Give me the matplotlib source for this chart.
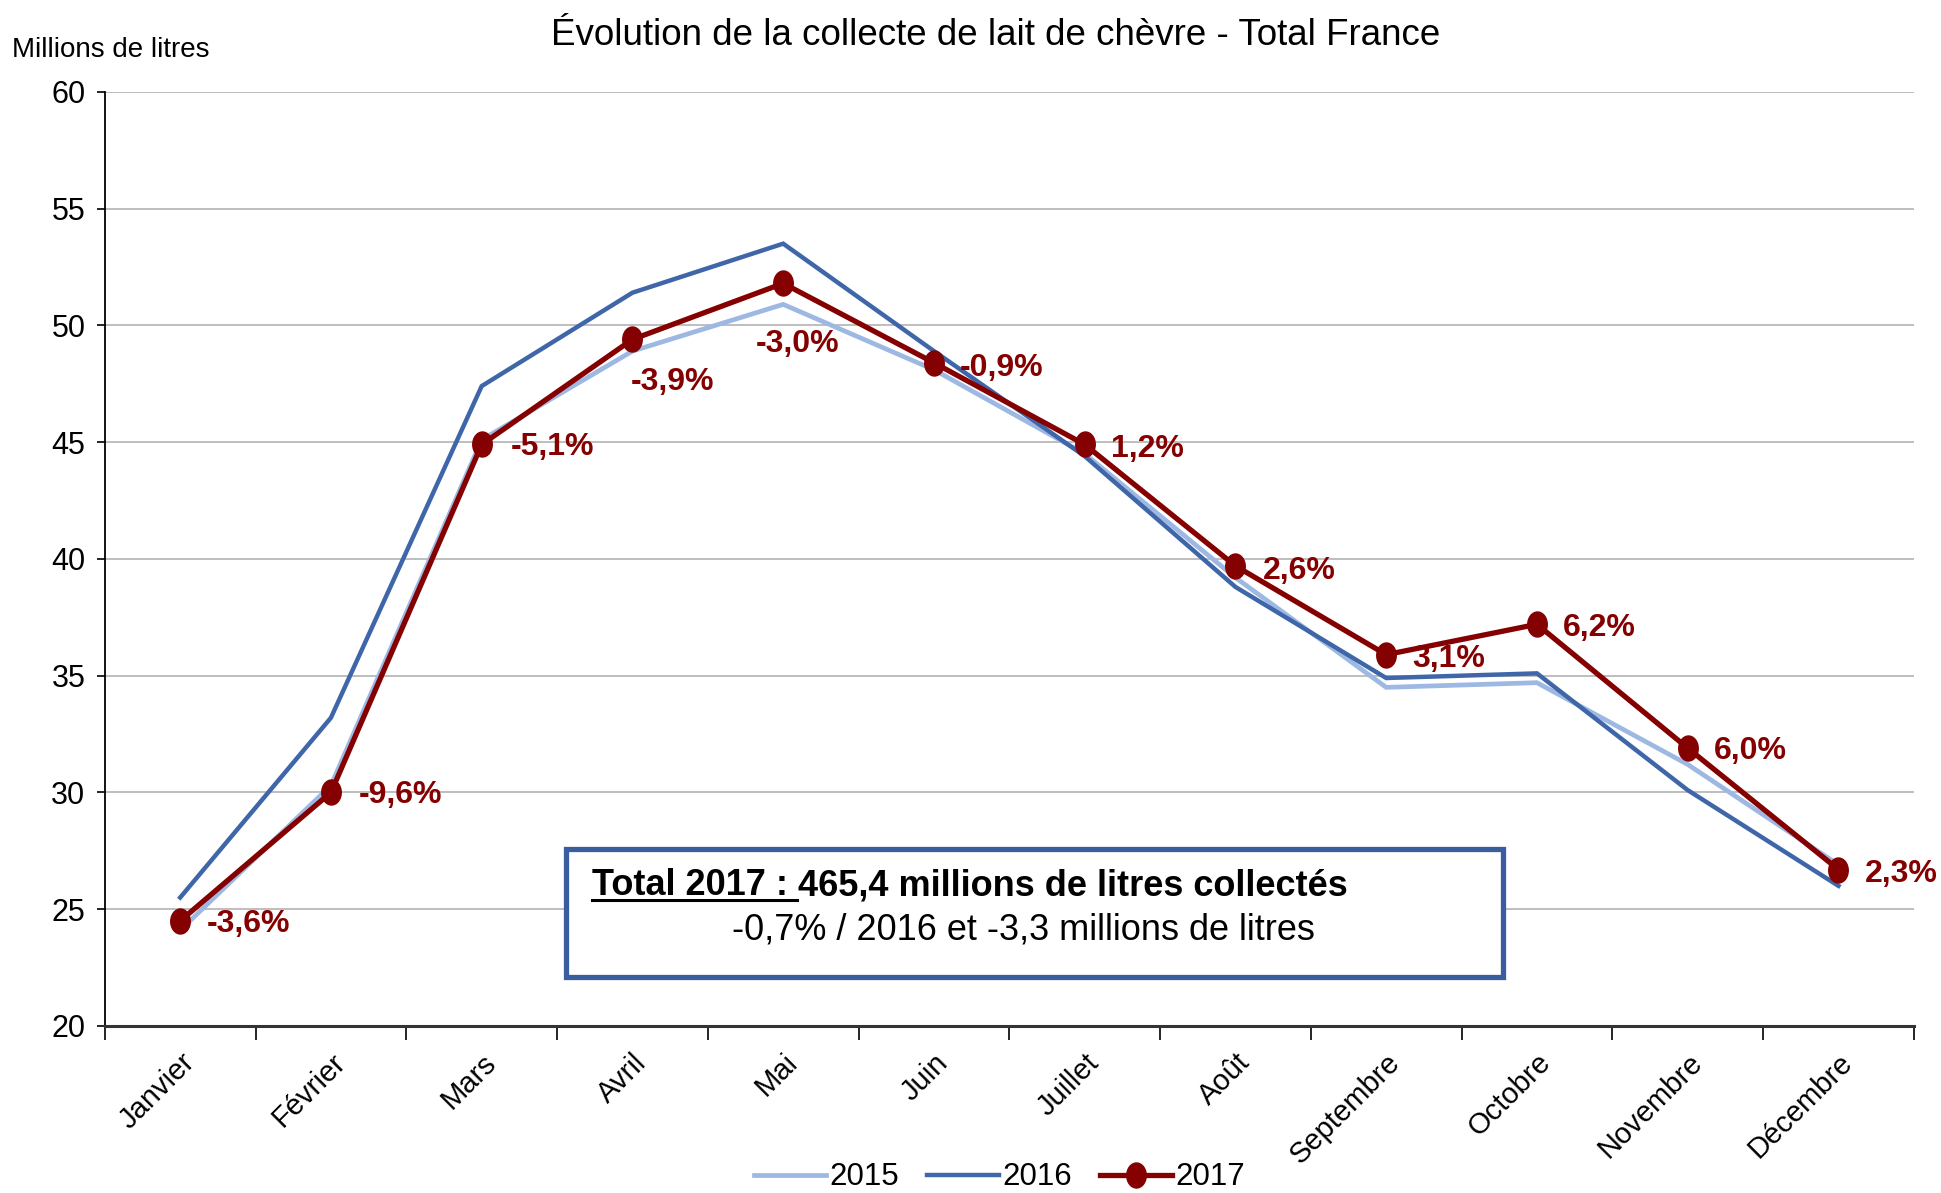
#!/usr/bin/env python3
"""Évolution de la collecte de lait de chèvre - Total France (2015-2017)."""

import matplotlib.pyplot as plt
import numpy as np
from matplotlib.lines import Line2D
from matplotlib.patches import Rectangle
from matplotlib.path import Path
from matplotlib.transforms import Affine2D

MONTHS = ["Janvier", "Février", "Mars", "Avril", "Mai", "Juin", "Juillet", "Août",
          "Septembre", "Octobre", "Novembre", "Décembre"]
COLLECTE_2015 = [24.1, 30.3, 45.1, 48.9, 50.9, 48.1, 44.5, 39.2, 34.5, 34.7, 31.2, 26.9]
COLLECTE_2016 = [25.5, 33.2, 47.4, 51.4, 53.5, 48.9, 44.4, 38.8, 34.9, 35.1, 30.1, 26.0]
COLLECTE_2017 = [24.5, 30.0, 44.9, 49.4, 51.8, 48.4, 44.9, 39.7, 35.9, 37.2, 31.9, 26.7]
EVOLUTION_2017 = ["-3,6%", "-9,6%", "-5,1%", "-3,9%", "-3,0%", "-0,9%",
                  "1,2%", "2,6%", "3,1%", "6,2%", "6,0%", "2,3%"]
YEARS = ["2015", "2016", "2017"]

# décalage des étiquettes (points), centre du texte par rapport au marqueur
LABEL_OFFSETS = [(49, -2), (50, -2), (51, -2), (29, -31), (10, -44), (49, -4),
                 (45, -3), (46, -4), (45, -3), (45, -3), (45, -2), (45, -3)]

C15 = "#9DB9E3"
C16 = "#3F66A8"
C17 = "#850000"
FONT = ["Liberation Sans", "DejaVu Sans"]


def ellipse_marker():
    return Path.unit_circle().transformed(Affine2D().scale(0.78, 1.0))


def main():
    plt.rcParams["font.family"] = FONT
    fig = plt.figure(figsize=(19.41, 11.93), dpi=100)
    ax = fig.add_axes([0.054, 0.140, 0.932, 0.783])

    x = np.arange(len(MONTHS))
    mk = ellipse_marker()
    ax.plot(x, COLLECTE_2015, color=C15, lw=3.4, zorder=3, solid_joinstyle="miter")
    ax.plot(x, COLLECTE_2016, color=C16, lw=3.2, zorder=3, solid_joinstyle="miter")
    ax.plot(x, COLLECTE_2017, color=C17, lw=3.8, marker=mk, ms=18, zorder=4,
            solid_joinstyle="miter")

    for i, (v, lab) in enumerate(zip(COLLECTE_2017, EVOLUTION_2017)):
        dx, dy = LABEL_OFFSETS[i]
        ax.annotate(lab, (x[i], v), xytext=(dx, dy), textcoords="offset points",
                    ha="center", va="center", fontsize=23, fontweight="bold",
                    color=C17, zorder=6)

    ax.set_xlim(-0.5, len(MONTHS) - 0.5)
    ax.set_ylim(20, 60)
    ax.set_yticks(np.arange(20, 61, 5))
    ax.yaxis.grid(True, color="#BEBEBE", lw=1.4)
    ax.set_axisbelow(True)
    ax.tick_params(axis="y", labelsize=22, length=6, width=1.2, pad=8)

    ax.set_xticks(x)
    ax.set_xticklabels(MONTHS, rotation=45, ha="right", rotation_mode="anchor", fontsize=21)
    ax.set_xticks(np.arange(-0.5, len(MONTHS), 1.0), minor=True)
    ax.tick_params(axis="x", which="major", length=0, pad=16)
    ax.tick_params(axis="x", which="minor", length=10, width=1.2)

    for s in ("top", "right"):
        ax.spines[s].set_visible(False)
    ax.spines["left"].set_linewidth(1.3)
    ax.spines["bottom"].set_linewidth(2.2)
    ax.spines["bottom"].set_color("#333333")

    fig.text(0.513, 0.970, "Évolution de la collecte de lait de chèvre - Total France",
             ha="center", va="center", fontsize=26.5)
    fig.text(0.006, 0.958, "Millions de litres", ha="left", va="center", fontsize=20)

    # encadré total
    ax.add_patch(Rectangle((0.255, 0.052), 0.518, 0.137, transform=ax.transAxes,
                           facecolor="white", edgecolor="#3A5DA0", lw=3.8, zorder=7))
    t1 = ax.text(0.2695, 0.150, "Total 2017 :", transform=ax.transAxes, ha="left",
                 va="center", fontsize=26, fontweight="bold", zorder=8)
    ax.annotate("465,4 millions de litres collectés", xy=(1, 0), xycoords=t1,
                xytext=(7, 0), textcoords="offset points", ha="left", va="bottom",
                fontsize=26, fontweight="bold", zorder=8)
    ax.text(0.508, 0.103, "-0,7% / 2016 et -3,3 millions de litres", transform=ax.transAxes,
            ha="center", va="center", fontsize=26, zorder=8)

    fig.canvas.draw()
    bb = t1.get_window_extent()
    inv = fig.transFigure.inverted()
    (x0, y0), (x1, _) = inv.transform([(bb.x0, bb.y0 + 3), (bb.x1 + 9, bb.y0 + 3)])
    fig.add_artist(Line2D([x0, x1], [y0, y0], color="black", lw=2.2, zorder=9))

    handles = [
        Line2D([], [], color=C15, lw=3.4),
        Line2D([], [], color=C16, lw=3.2),
        Line2D([], [], color=C17, lw=3.8, marker=mk, ms=18),
    ]
    fig.legend(handles, YEARS, loc="center", bbox_to_anchor=(0.515, 0.013), ncol=3,
               frameon=False, fontsize=22.5, handlelength=2.3, handletextpad=0.1,
               columnspacing=0.9)

    fig.savefig("out.png", dpi=100)
    plt.close(fig)


if __name__ == "__main__":
    main()
